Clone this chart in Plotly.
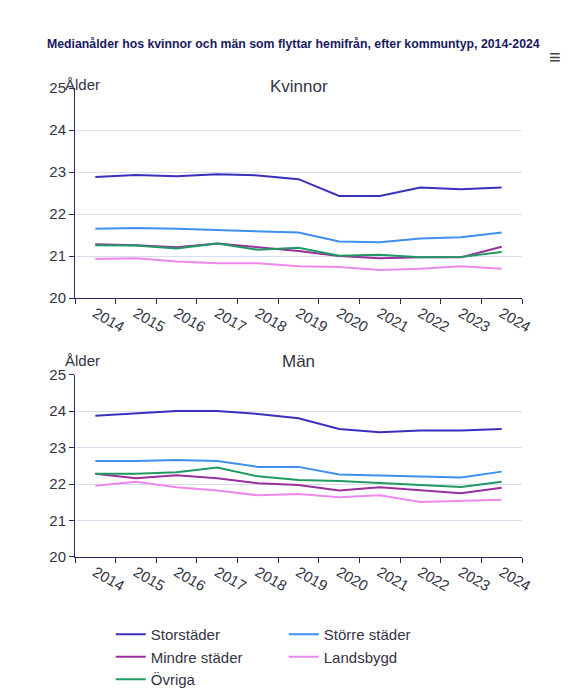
import plotly.graph_objects as go
from plotly.subplots import make_subplots

years = [str(y) for y in range(2014, 2025)]
series = ["Storstäder", "Större städer", "Mindre städer", "Landsbygd", "Övriga"]
colors = ["#3b2fbf", "#3d8ff0", "#9a2f9f", "#ee88ee", "#1f9a62"]

kvinnor = [
    [22.88, 22.93, 22.90, 22.95, 22.92, 22.83, 22.43, 22.43, 22.63, 22.59, 22.63],
    [21.65, 21.67, 21.65, 21.62, 21.58, 21.56, 21.35, 21.33, 21.42, 21.45, 21.56],
    [21.28, 21.26, 21.21, 21.30, 21.21, 21.12, 21.00, 20.95, 20.97, 20.97, 21.22],
    [20.93, 20.95, 20.87, 20.83, 20.83, 20.76, 20.74, 20.67, 20.70, 20.76, 20.70],
    [21.26, 21.25, 21.18, 21.30, 21.15, 21.20, 21.01, 21.03, 20.97, 20.98, 21.10],
]
man = [
    [23.87, 23.93, 24.00, 24.00, 23.92, 23.80, 23.51, 23.42, 23.47, 23.47, 23.51],
    [22.63, 22.63, 22.66, 22.63, 22.47, 22.47, 22.26, 22.23, 22.22, 22.18, 22.34],
    [22.28, 22.16, 22.24, 22.16, 22.02, 21.97, 21.82, 21.91, 21.83, 21.75, 21.90],
    [21.95, 22.06, 21.91, 21.82, 21.69, 21.73, 21.64, 21.69, 21.51, 21.53, 21.57],
    [22.28, 22.28, 22.32, 22.45, 22.21, 22.11, 22.08, 22.02, 21.97, 21.92, 22.06],
]

fig = make_subplots(rows=2, cols=1)
for i, name in enumerate(series):
    fig.add_trace(go.Scatter(x=years, y=kvinnor[i], name=name, mode="lines",
                             line=dict(color=colors[i], width=2), legendgroup=name), row=1, col=1)
    fig.add_trace(go.Scatter(x=years, y=man[i], name=name, mode="lines", showlegend=False,
                             line=dict(color=colors[i], width=2), legendgroup=name), row=2, col=1)

axcol = "#2a2a5a"
fig.update_xaxes(type="category", tickson="boundaries", range=[-0.5, 10.5], ticks="outside", ticklen=5,
                 tickcolor=axcol, showline=True, linecolor=axcol, showgrid=False,
                 tickfont=dict(size=15, color="#333344"))
fig.update_yaxes(range=[20, 25], dtick=1, ticks="outside", ticklen=5, tickcolor=axcol,
                 showline=True, linecolor=axcol, gridcolor="#dcdcf0",
                 tickfont=dict(size=15, color="#333344"))
fig.update_layout(
    width=578, height=700, plot_bgcolor="white", paper_bgcolor="white",
    font=dict(family="Liberation Sans, Arial", color="#333344"),
    margin=dict(l=67, r=64, t=80, b=113),
    legend=dict(orientation="h", x=0.08, y=-0.13, xanchor="left", yanchor="top",
                font=dict(size=15), entrywidth=128, traceorder="normal"),
    annotations=[
        dict(text="<b>Medianålder hos kvinnor och män som flyttar hemifrån, efter kommuntyp, 2014-2024</b>",
             x=0, y=1, xref="paper", yref="paper", xshift=-30, yshift=53, showarrow=False,
             xanchor="left", font=dict(size=12.3, color="#1a1a5e")),
        dict(text="≡", x=1, y=1, xref="paper", yref="paper", xshift=41, yshift=44,
             showarrow=False, font=dict(size=20, color="#444")),
        dict(text="Kvinnor", x=0.5, y=1, xref="paper", yref="paper", yshift=13,
             showarrow=False, font=dict(size=17)),
        dict(text="Ålder", x=0, y=1, xref="paper", yref="paper", xshift=-12, yshift=14,
             showarrow=False, font=dict(size=15)),
        dict(text="Män", x=0.5, y=0.389, xref="paper", yref="paper", yshift=13,
             showarrow=False, font=dict(size=17)),
        dict(text="Ålder", x=0, y=0.389, xref="paper", yref="paper", xshift=-12, yshift=14,
             showarrow=False, font=dict(size=15)),
    ],
)
fig.update_layout(yaxis=dict(domain=[0.552, 1]), yaxis2=dict(domain=[0, 0.389]))
fig.write_html("out.html")
